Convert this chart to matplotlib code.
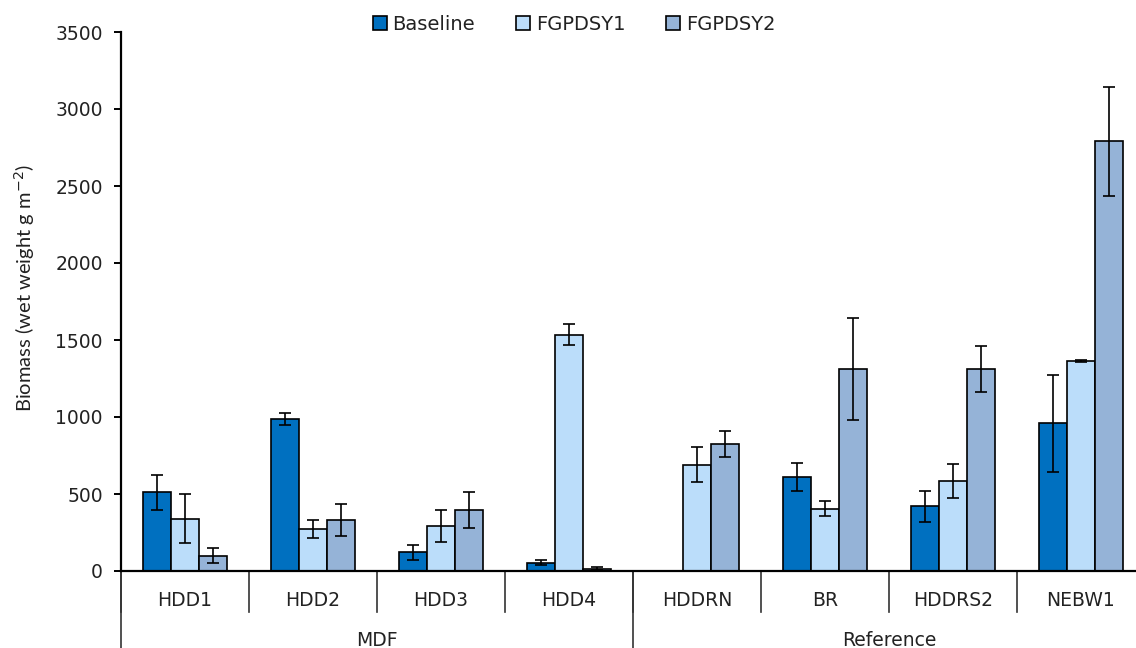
import numpy as np
import matplotlib
matplotlib.use("Agg")
import matplotlib.pyplot as plt
from matplotlib.transforms import blended_transform_factory

sites = ["HDD1", "HDD2", "HDD3", "HDD4", "HDDRN", "BR", "HDDRS2", "NEBW1"]
site_groups = ["MDF", "Reference"]
group_sizes = [4, 4]

series_names = ["Baseline", "FGPDSY1", "FGPDSY2"]
baseline = [510, 985, 122, 55, 0, 610, 420, 960]
baseline_err = [115, 40, 50, 18, 0, 90, 100, 315]
fgpdsy1 = [340, 270, 292, 1535, 690, 405, 585, 1366]
fgpdsy1_err = [160, 58, 105, 70, 115, 50, 110, 6]
fgpdsy2 = [100, 330, 396, 15, 825, 1310, 1310, 2790]
fgpdsy2_err = [50, 105, 115, 8, 85, 330, 148, 355]

colors = ["#0070C0", "#BBDDFA", "#95B3D7"]
text_color = "#222222"

plt.rcParams["font.family"] = ["DejaVu Sans"]

fig = plt.figure(figsize=(11.36, 6.48), dpi=100)
ax = fig.add_axes([121 / 1136, 77 / 648, 1024 / 1136, 539 / 648])

x = np.arange(len(sites))
width = 0.22
values = [baseline, fgpdsy1, fgpdsy2]
errors = [baseline_err, fgpdsy1_err, fgpdsy2_err]
for i, (vals, errs, col, name) in enumerate(zip(values, errors, colors, series_names)):
    pos = x + (i - 1) * width
    vals = np.array(vals, dtype=float)
    errs = np.array(errs, dtype=float)
    ax.bar(pos, vals, width, color=col, edgecolor="black", linewidth=1.2,
           label=name, zorder=2)
    show = vals > 0
    ax.errorbar(pos[show], vals[show], yerr=errs[show], fmt="none",
                ecolor="black", elinewidth=1.2, capsize=4, capthick=1.2, zorder=3)

ax.set_xlim(-0.5, len(sites) - 0.5)
ax.set_ylim(0, 3500)
ax.set_yticks(np.arange(0, 3501, 500))
ax.tick_params(axis="y", labelsize=13.5, length=5, width=1.4, direction="out",
               pad=8, colors="black", labelcolor=text_color)
ax.tick_params(axis="x", length=0, labelbottom=False)
for side in ["top", "right"]:
    ax.spines[side].set_visible(False)
ax.spines["left"].set_linewidth(1.6)
ax.spines["bottom"].set_linewidth(1.6)

ax.set_ylabel("Biomass (wet weight g m$^{-2}$)", fontsize=14.5,
              family=["Lato", "DejaVu Sans"], color=text_color)
ax.yaxis.set_label_coords(-84 / 1024, (571 - 288) / 539)

# two-level category axis drawn below the plot
trans = blended_transform_factory(ax.transData, ax.transAxes)
sep_short = -41 / 539
sep_long = -80 / 539
for b in np.arange(len(sites) + 1) - 0.5:
    ax.plot([b, b], [0, sep_short], transform=trans, color="#333333",
            linewidth=1.2, clip_on=False)
start = 0
for gname, size in zip(site_groups, group_sizes):
    ax.plot([start - 0.5, start - 0.5], [0, sep_long], transform=trans,
            color="#333333", linewidth=1.2, clip_on=False)
    ax.text(start + (size - 1) / 2, -69 / 539, gname, transform=trans,
            ha="center", va="center", fontsize=13.5, color=text_color)
    start += size
for xi, s in zip(x, sites):
    ax.text(xi, -30 / 539, s, transform=trans, ha="center", va="center",
            fontsize=13.5, color=text_color)

leg = ax.legend(loc="center", ncol=3, frameon=False, fontsize=14,
                handlelength=0.72, handleheight=0.72, handletextpad=0.3,
                columnspacing=2.1)
leg.set_bbox_to_anchor((574 / 1136, 1 - 24 / 648), transform=fig.transFigure)
for t in leg.get_texts():
    t.set_color(text_color)

fig.savefig("out.png", dpi=100)
